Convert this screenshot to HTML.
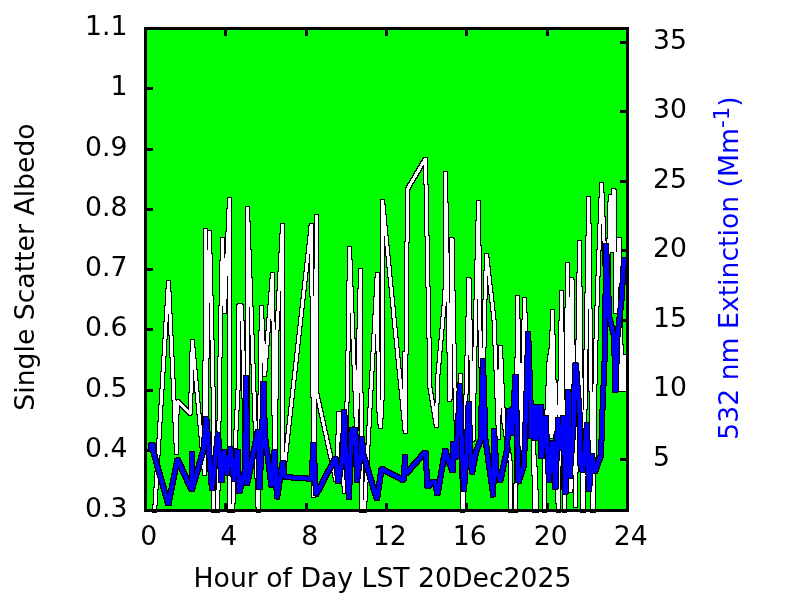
<!DOCTYPE html>
<html lang="en">
<head>
<meta charset="utf-8">
<title>Single Scatter Albedo and 532 nm Extinction - 20Dec2025</title>
<style>
html,body{margin:0;padding:0;background:#fff;}
body{width:800px;height:600px;overflow:hidden;position:relative;}
svg{position:absolute;left:0;top:0;display:block;}
text{font-family:"DejaVu Sans","Liberation Sans",sans-serif;font-size:26.67px;fill:#000;}
.b text{fill:#0000ff;}
</style>
</head>
<body>
<svg width="800" height="600" viewBox="0 0 800 600">
<rect x="0" y="0" width="800" height="600" fill="#ffffff"/>
<defs><clipPath id="cp"><rect x="146" y="29" width="481" height="484"/></clipPath><filter id="ol" filterUnits="userSpaceOnUse" x="0" y="0" width="800" height="600" color-interpolation-filters="sRGB"><feMorphology in="SourceAlpha" operator="dilate" radius="1" result="d"/><feComponentTransfer in="d" result="k"><feFuncA type="discrete" tableValues="0 1"/></feComponentTransfer><feMerge><feMergeNode in="k"/><feMergeNode in="SourceGraphic"/></feMerge></filter></defs>
<rect x="147" y="30" width="479" height="479" fill="#00ff00"/>
<g shape-rendering="crispEdges" fill="#000">
<rect x="147" y="449" width="6" height="3"/><rect x="147" y="389" width="6" height="3"/><rect x="147" y="328" width="6" height="3"/><rect x="147" y="268" width="6" height="3"/><rect x="147" y="208" width="6" height="3"/><rect x="147" y="148" width="6" height="3"/><rect x="147" y="87" width="6" height="3"/><rect x="620" y="458" width="6" height="3"/><rect x="620" y="388" width="6" height="3"/><rect x="620" y="319" width="6" height="3"/><rect x="620" y="249" width="6" height="3"/><rect x="620" y="180" width="6" height="3"/><rect x="620" y="110" width="6" height="3"/><rect x="620" y="41" width="6" height="3"/><rect x="224" y="30" width="3" height="6"/><rect x="224" y="503" width="3" height="6"/><rect x="305" y="30" width="3" height="6"/><rect x="305" y="503" width="3" height="6"/><rect x="385" y="30" width="3" height="6"/><rect x="385" y="503" width="3" height="6"/><rect x="465" y="30" width="3" height="6"/><rect x="465" y="503" width="3" height="6"/><rect x="546" y="30" width="3" height="6"/><rect x="546" y="503" width="3" height="6"/>
</g>
<g clip-path="url(#cp)" fill="none" shape-rendering="crispEdges" stroke-linejoin="bevel" stroke-linecap="butt">
<g filter="url(#ol)" stroke="#fff" stroke-width="3">
<polyline points="154.6,512 168.5,281 176.5,454 177.2,401 190.5,414 192.3,340 204.6,475 205.5,229 207.7,318 209.5,231 211.8,330 213.4,405 213.7,512"/>
<polyline points="217.7,512 219.6,380 220.6,325 222.5,238 224.4,313 229.5,198 230,445 229.7,512"/>
<polyline points="232.7,512 235,450 238.5,380 239,305 241.5,306 243,350 245,445 248,440 247.5,207 258.2,512"/>
<polyline points="258.2,512 261.4,306 264.6,376 272.5,273 274,415 275.5,465 276.5,340 282.5,224 282.8,460 284.5,466 311.3,224 314,497 316.5,215 317,394 336,481 339,412 344.5,493 347.6,380 349.5,247 356.5,430 360.5,269 361.5,512"/>
<polyline points="364.4,512 377.3,273 378.5,405 380.3,428 382,405 382.5,200 405.3,433 407.5,189 425.5,158.5 430,388 436.5,427 437.5,380 445,295 445.4,172 450,401 452,238 454.6,375 456.8,445 460.5,374 462.5,512"/>
<polyline points="463,512 469,278 473,441 476,300 478.5,201 480,330 482.5,420 485,300 486.6,254.5 494,320 496.2,375 498.5,439 500.5,346 503.5,420 510,460 511,512"/>
<polyline points="515.8,512 517.5,296 521,450 524.5,298 526,340 532.8,430 535,512"/>
<polyline points="537,512 534.5,455"/>
<polyline points="207.6,316 206.2,416"/>
<polyline points="404,352 405,430"/>
<polyline points="624.5,355 624.5,391"/>
<polyline points="622.5,355 622.5,391"/>
<polyline points="620.2,355 620.8,391"/>
<polyline points="545,512 544,460 547.5,402 548.7,364 551.7,345 552.5,310 554,380 558.3,512"/>
<polyline points="551.5,345 549.5,415"/>
<polyline points="555,383 556.5,415"/>
<polyline points="552.5,360 552,438"/>
<polyline points="549.5,415 550.8,436"/>
<polyline points="562.5,372 562.5,416"/>
<polyline points="566,372 566.5,400"/>
<polyline points="558.5,512 560,381 561.5,291 564.3,512"/>
<polyline points="564.8,512 567.5,263 571,492 572,278 575.5,507 579.5,241 582.5,512"/>
<polyline points="583.5,512 585,410 586,350 588.7,197 590.5,350 592.5,512"/>
<polyline points="593.5,512 594.5,410 595.7,350 597.5,290 601.6,183 607,312 610.2,195 612,252 614,189 616,313 619,238 620.5,288 620.7,335 622.5,391"/>
</g>
<g filter="url(#ol)" stroke="#0000ff" stroke-width="4" stroke-linejoin="bevel" stroke-linecap="butt">
<polyline points="150.8,451 151,444.9 153,444.9 153.2,451 168.4,504.9 177.5,459.1 191.7,490.3 191.7,452.2 191.7,490.3 203.5,450 206.3,416.7 212,489.8 218,432.7 221.5,482.3 223.7,450.7 227,474.8 230.4,447.7 234,480.3 237.5,449.7 239.3,492.8 245,470 246.3,375.7 247,484.8 258,430.2 259.5,489.3 262,440 263.5,381.7 265,436 271.5,486.3 274.6,450.2 277,498.3 282.75,461.7 284.5,477 311.5,478.8 313.5,443.2 316,494.8 335.5,457.7 338.4,482.3 342.8,455 344.3,409.7 345.8,455 349,498.8 351,440 351.8,427.7 353.5,445.3 355.3,427.7 356,450 357,481.8 360.5,455 361.8,436.7 363.5,455 377,499.8 381.5,468.7 403.5,480.3 405.3,455.4 405.5,474.3 425.5,451.7 427.5,487.3 432,482 435,482 437.5,494.3 445.25,449.7 449,462 452.75,471.8 453.5,442.2 456.5,458.3 459.9,383.7 462,452 464,490.8 466.5,455 468.7,402.2 470.5,455 472,473.3 476,452 480.5,440 483,358.7 485.5,440 489,465 493.4,496.3 494,428.7 496.5,470 500.25,481.3 507,450 509,408.7 511.8,435.3 515.5,374.7 518.5,482.3 524,465 526,410 528.2,332.2 530.5,400 531.5,438.3 533.5,404.7 535.5,440.3 537.5,404.7 539.5,438.3 540.5,404.7 541.5,458.3 545.5,415.7 549,481.8 551,450 552.5,441.7 555.5,488.8 558,418.2 560.5,450.3 563.5,415.7 565.5,493.8 568.5,389.7 569.5,478.3 572,445 574,420 574.8,365 576,365 580,420 580.5,465 583,471.8 587,423.2 589,490.8 592,454.7 595,472.3 601,455 602.5,410 605,350 606,243.7 609.5,318 614,336 615.5,391.8 617.5,336 621.5,300 624.1,258"/>
</g>
</g>
<g shape-rendering="crispEdges" fill="#000">
<rect x="144" y="27" width="485" height="3"/><rect x="144" y="509" width="485" height="3"/><rect x="144" y="27" width="3" height="485"/><rect x="626" y="27" width="3" height="485"/>
</g>
<g>
<text x="127.5" y="517" text-anchor="end">0.3</text>
<text x="127.5" y="457" text-anchor="end">0.4</text>
<text x="127.5" y="397" text-anchor="end">0.5</text>
<text x="127.5" y="336" text-anchor="end">0.6</text>
<text x="127.5" y="276" text-anchor="end">0.7</text>
<text x="127.5" y="216" text-anchor="end">0.8</text>
<text x="127.5" y="156" text-anchor="end">0.9</text>
<text x="127.5" y="95" text-anchor="end">1</text>
<text x="127.5" y="35" text-anchor="end">1.1</text>
<text x="653" y="466" text-anchor="start">5</text>
<text x="653" y="396" text-anchor="start">10</text>
<text x="653" y="327" text-anchor="start">15</text>
<text x="653" y="257" text-anchor="start">20</text>
<text x="653" y="188" text-anchor="start">25</text>
<text x="653" y="118" text-anchor="start">30</text>
<text x="653" y="49" text-anchor="start">35</text>
<text x="148.8" y="545" text-anchor="middle">0</text>
<text x="228.8" y="545" text-anchor="middle">4</text>
<text x="309.8" y="545" text-anchor="middle">8</text>
<text x="389.8" y="545" text-anchor="middle">12</text>
<text x="469.8" y="545" text-anchor="middle">16</text>
<text x="550.8" y="545" text-anchor="middle">20</text>
<text x="630.8" y="545" text-anchor="middle">24</text>
<text x="382.5" y="587" text-anchor="middle">Hour of Day LST 20Dec2025</text>
<text transform="translate(34,267) rotate(-90)" text-anchor="middle">Single Scatter Albedo</text>
<g class="b"><text transform="translate(738,268) rotate(-90)" text-anchor="middle">532 nm Extinction (Mm<tspan dy="-9" font-size="21.3px">-1</tspan><tspan dy="9">)</tspan></text></g>
</g>
</svg>
</body>
</html>
